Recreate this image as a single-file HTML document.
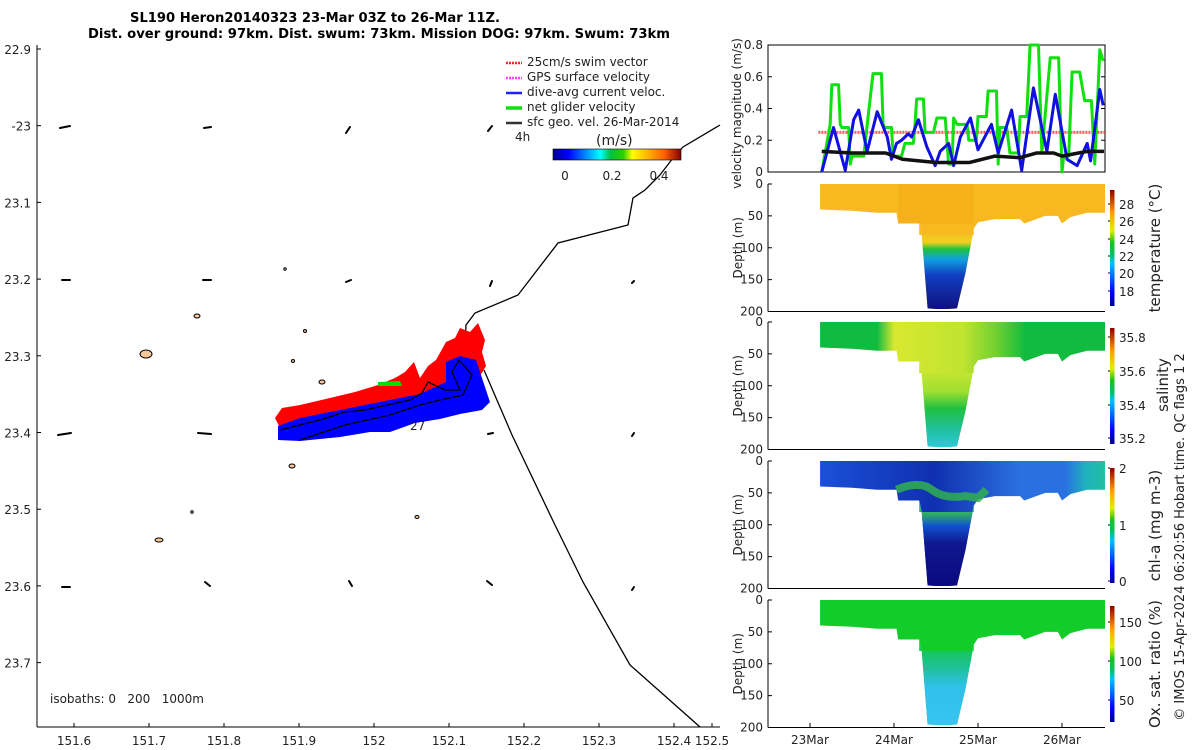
<!DOCTYPE html>
<html><head><meta charset="utf-8"><style>
html,body{margin:0;padding:0;background:#fff;}
svg{display:block;font-family:"DejaVu Sans","Liberation Sans",sans-serif;}
.t{font-size:12px;fill:#222;}
</style></head><body>
<svg id="fig" width="1200" height="750" viewBox="0 0 1200 750" xmlns="http://www.w3.org/2000/svg">
<defs>
<linearGradient id="jetH" x1="0" x2="1" y1="0" y2="0">
<stop offset="0" stop-color="#00008f"/><stop offset="0.12" stop-color="#0000ff"/><stop offset="0.37" stop-color="#00ffff"/><stop offset="0.45" stop-color="#00c040"/><stop offset="0.55" stop-color="#30d000"/><stop offset="0.62" stop-color="#ffff00"/><stop offset="0.87" stop-color="#ff6000"/><stop offset="1" stop-color="#800000"/></linearGradient>
<linearGradient id="jetV" x1="0" x2="0" y1="1" y2="0">
<stop offset="0" stop-color="#00008f"/><stop offset="0.12" stop-color="#0000ff"/><stop offset="0.37" stop-color="#00c0ff"/><stop offset="0.45" stop-color="#00c060"/><stop offset="0.55" stop-color="#20c020"/><stop offset="0.65" stop-color="#e0f000"/><stop offset="0.8" stop-color="#ffa000"/><stop offset="1" stop-color="#900000"/></linearGradient>
<linearGradient id="gTempTrough" x1="0" x2="0" y1="0" y2="1">
<stop offset="0" stop-color="#f6b01c"/><stop offset="0.22" stop-color="#f0d020"/><stop offset="0.3" stop-color="#20c040"/><stop offset="0.42" stop-color="#10a0e0"/><stop offset="0.6" stop-color="#1040c0"/><stop offset="1" stop-color="#101080"/></linearGradient>
<linearGradient id="gSalTrough" x1="0" x2="0" y1="0" y2="1">
<stop offset="0" stop-color="#d8e830"/><stop offset="0.35" stop-color="#a0e030"/><stop offset="0.55" stop-color="#20c040"/><stop offset="0.8" stop-color="#20c0a0"/><stop offset="1" stop-color="#30c8d8"/></linearGradient>
<linearGradient id="gSalH" x1="0" x2="1" y1="0" y2="0">
<stop offset="0" stop-color="#10bb40"/><stop offset="0.2" stop-color="#10bb40"/><stop offset="0.26" stop-color="#d8e830"/><stop offset="0.5" stop-color="#c0e430"/><stop offset="0.62" stop-color="#70d030"/><stop offset="0.72" stop-color="#10bb40"/><stop offset="1" stop-color="#10bb40"/></linearGradient>
<linearGradient id="gChlH" x1="0" x2="1" y1="0" y2="0">
<stop offset="0" stop-color="#1a50d8"/><stop offset="0.4" stop-color="#1030b0"/><stop offset="0.7" stop-color="#2a70e0"/><stop offset="0.86" stop-color="#2a70e0"/><stop offset="0.93" stop-color="#20b0c0"/><stop offset="1" stop-color="#20c0a0"/></linearGradient>
<linearGradient id="gChlTrough" x1="0" x2="0" y1="0" y2="1">
<stop offset="0" stop-color="#30b0a0"/><stop offset="0.15" stop-color="#30b060"/><stop offset="0.3" stop-color="#1050d0"/><stop offset="0.5" stop-color="#101890"/><stop offset="1" stop-color="#0a0a80"/></linearGradient>
<linearGradient id="gOxTrough" x1="0" x2="0" y1="0" y2="1">
<stop offset="0" stop-color="#10c830"/><stop offset="0.35" stop-color="#20c0a0"/><stop offset="0.55" stop-color="#30c0e8"/><stop offset="1" stop-color="#38c4f0"/></linearGradient>
</defs>

<g>
<text x="130" y="22" textLength="370" lengthAdjust="spacingAndGlyphs" font-weight="bold" font-size="13" fill="#000">SL190 Heron20140323 23-Mar 03Z to 26-Mar 11Z.</text>
<text x="88" y="38" textLength="582" lengthAdjust="spacingAndGlyphs" font-weight="bold" font-size="13" fill="#000">Dist. over ground: 97km. Dist. swum: 73km. Mission DOG: 97km. Swum: 73km</text>
<line x1="37" y1="45" x2="37" y2="727" stroke="#000"/>
<line x1="37" y1="727" x2="720" y2="727" stroke="#000"/>
<g id="mapTicks"></g>
<g fill="#f7c79a" stroke="#000" stroke-width="1">
<ellipse cx="146" cy="354" rx="6" ry="4"/><ellipse cx="197" cy="316" rx="3" ry="2"/><ellipse cx="322" cy="382" rx="3" ry="2"/><ellipse cx="292" cy="466" rx="3" ry="2"/><ellipse cx="159" cy="540" rx="4" ry="2"/>
<ellipse cx="305" cy="331" rx="1.5" ry="1.5"/><ellipse cx="293" cy="361" rx="1.5" ry="1.5"/><ellipse cx="285" cy="269" rx="1.2" ry="1.2"/><ellipse cx="417" cy="517" rx="2" ry="1.5"/><ellipse cx="192" cy="512" rx="1.2" ry="1.2"/>
</g>
<g stroke="#000" stroke-width="2" stroke-linecap="round">
<line x1="60" y1="128" x2="70" y2="126"/><line x1="204" y1="128" x2="211" y2="127"/><line x1="346" y1="133" x2="350" y2="127"/><line x1="488" y1="131" x2="492" y2="126"/>
<line x1="62" y1="280" x2="70" y2="280"/><line x1="203" y1="280" x2="211" y2="280"/><line x1="346" y1="282" x2="351" y2="280"/><line x1="490" y1="286" x2="492" y2="281"/><line x1="632" y1="283" x2="634" y2="281"/>
<line x1="58" y1="435" x2="71" y2="433"/><line x1="198" y1="433" x2="211" y2="434"/><line x1="488" y1="434" x2="493" y2="433"/><line x1="632" y1="436" x2="634" y2="433"/>
<line x1="62" y1="587" x2="70" y2="587"/><line x1="205" y1="582" x2="210" y2="586"/><line x1="349" y1="581" x2="352" y2="586"/><line x1="487" y1="581" x2="492" y2="585"/><line x1="632" y1="590" x2="634" y2="587"/>
</g>
<polyline points="720,125 683,147 673,158 660,175 645,190 633,198 628,225 558,243 518,295 475,313 466,325 465,345" fill="none" stroke="#000" stroke-width="1.3"/>
<polyline points="484,370 512,435 555,525 583,582 630,665 700,727" fill="none" stroke="#000" stroke-width="1.3"/>
<polygon points="275,418 282,408 300,405 330,398 355,392 378,385 395,378 405,372 414,362 420,378 428,366 436,360 446,342 455,338 460,328 470,332 478,323 485,340 482,352 486,366 480,376 470,386 440,400 400,406 340,412 300,422 280,428" fill="#ff0000"/>
<polygon points="278,426 300,418 340,410 380,402 420,394 446,382 446,362 460,356 476,360 484,384 490,402 482,410 460,414 440,419 415,423 390,432 370,432 340,437 300,441 278,440" fill="#0000ff"/>
<polyline points="378,382 400,381 402,386 378,386" fill="#00e000"/>
<polyline points="280,430 320,420 345,412 365,410 410,400 422,393 428,382 445,390 460,390 452,372 459,360 472,375 463,395 440,400 420,405 390,415 345,425 300,440" fill="none" stroke="#000" stroke-width="1.3"/>
<text x="410" y="430" class="t" fill="#000">27</text>
<text x="50" y="703" class="t" xml:space="preserve" style="white-space:pre">isobaths: 0   200   1000m</text>
<g>
<g stroke-width="2.5"><line x1="506" y1="63" x2="522" y2="63" stroke="#ff2020" stroke-dasharray="2,1"/><line x1="506" y1="78" x2="522" y2="78" stroke="#ff40ff" stroke-dasharray="2,1"/><line x1="506" y1="93" x2="522" y2="93" stroke="#2020ff"/><line x1="506" y1="108" x2="522" y2="108" stroke="#10e010" stroke-width="3.5"/><line x1="506" y1="123" x2="522" y2="123" stroke="#333"/></g>
<text x="527" y="66" class="t">25cm/s swim vector</text>
<text x="527" y="81" class="t">GPS surface velocity</text>
<text x="527" y="96" class="t">dive-avg current veloc.</text>
<text x="527" y="111" class="t">net glider velocity</text>
<text x="527" y="126" class="t">sfc geo. vel. 26-Mar-2014</text>
<text x="515" y="141" class="t">4h</text>
<text x="596" y="145" font-size="14" fill="#222">(m/s)</text>
<rect x="553" y="149" width="128" height="11" fill="url(#jetH)" stroke="#000" stroke-width="0.6"/>
<text x="565" y="180" class="t" text-anchor="middle">0</text>
<text x="612" y="180" class="t" text-anchor="middle">0.2</text>
<text x="659" y="180" class="t" text-anchor="middle">0.4</text>
</g>
</g>

<g id="right"></g>
<text transform="translate(1184,537) rotate(-90)" text-anchor="middle" font-size="13" fill="#222">© IMOS 15-Apr-2024 06:20:56 Hobart time. QC flags 1  2</text>
</svg>
<script>
const greenT=[23.14,23.24,23.26,23.34,23.36,23.38,23.46,23.48,23.50,23.56,23.64,23.66,23.75,23.77,23.85,23.87,23.89,23.97,23.99,24.09,24.13,24.23,24.25,24.27,24.35,24.37,24.39,24.47,24.51,24.61,24.65,24.69,24.71,24.75,24.87,24.89,24.98,25.00,25.10,25.12,25.22,25.24,25.26,25.34,25.38,25.48,25.50,25.58,25.62,25.72,25.76,25.86,25.96,26.00,26.02,26.08,26.12,26.21,26.27,26.35,26.39,26.45,26.49];
const greenV=[0,0.3,0.55,0.55,0.3,0.28,0.28,0.05,0.1,0.1,0.1,0.2,0.62,0.62,0.62,0.3,0.28,0.28,0.1,0.1,0.18,0.18,0.3,0.46,0.46,0.25,0.25,0.25,0.34,0.34,0.05,0.05,0.34,0.3,0.3,0.2,0.2,0.35,0.35,0.51,0.51,0.05,0.28,0.28,0.12,0.12,0.35,0.35,0.8,0.8,0.12,0.72,0.72,0,0.1,0.1,0.63,0.63,0.45,0.45,0.05,0.77,0.7];
const blueT=[23.14,23.18,23.28,23.42,23.52,23.58,23.68,23.80,23.92,23.97,24.03,24.09,24.17,24.21,24.29,24.39,24.49,24.55,24.65,24.71,24.79,24.91,25.00,25.16,25.24,25.40,25.52,25.66,25.82,25.92,26.06,26.18,26.30,26.34,26.45,26.49];
const blueV=[0,0.08,0.28,0.01,0.33,0.39,0.13,0.38,0.22,0.08,0.18,0.2,0.24,0.22,0.33,0.16,0.04,0.13,0.18,0.04,0.22,0.34,0.14,0.3,0.12,0.39,0.01,0.53,0.13,0.49,0.08,0.04,0.18,0.07,0.52,0.42];
const geoT=[23.14,23.5,23.9,24.1,24.5,24.9,25.2,25.5,25.7,25.9,26.0,26.3,26.5];
const geoV=[0.13,0.12,0.12,0.08,0.06,0.06,0.1,0.09,0.12,0.12,0.1,0.13,0.13];
const swimV=0.25;
const velTicks=[0,0.2,0.4,0.6,0.8];
const dateTicks=[23,24,25,26];
const dateLabels=["23Mar","24Mar","25Mar","26Mar"];
const profT=[23.12,23.5,23.8,24.03,24.05,24.3,24.33,24.4,24.5,24.65,24.75,24.85,24.95,25.0,25.2,25.5,25.55,25.8,25.95,26.0,26.1,26.3,26.5];
const profD=[40,42,45,45,62,62,80,195,196,196,195,140,70,60,55,55,62,50,50,62,52,45,45];
const troughT=[24.3,24.4,24.5,24.6,24.7,24.8,24.95];
const troughTop=[80,80,80,80,80,80,80];
const depthTicks=[0,50,100,150,200];

const NS="http://www.w3.org/2000/svg";
const R=document.getElementById('right');
const X0=768,X1=1105;
function xT(t){return 810+(t-23)*84;}
function mk(tag,attrs,parent){const e=document.createElementNS(NS,tag);for(const k in attrs)e.setAttribute(k,attrs[k]);(parent||R).appendChild(e);return e;}

const vTop=45,vBot=172;
function yV(v){return vBot-(v/0.8)*(vBot-vTop);}
const vp=mk('g',{});


mk('rect',{x:X0,y:vTop,width:X1-X0,height:vBot-vTop,fill:'none',stroke:'#000','stroke-width':1},vp);
velTicks.forEach(v=>{
  mk('line',{x1:X0,x2:X0+4,y1:yV(v),y2:yV(v),stroke:'#000'},vp);
  mk('line',{x1:X1-4,x2:X1,y1:yV(v),y2:yV(v),stroke:'#000'},vp);
  const tx=mk('text',{x:X0-5,y:yV(v)+4,'text-anchor':'end',class:'t'},vp);tx.textContent=v;
  
  
});
const vlab=mk('text',{transform:`translate(741,${(vTop+vBot)/2+5}) rotate(-90)`,'text-anchor':'middle',class:'t'},vp);
vlab.textContent='velocity magnitude (m/s)';


const sw=mk('line',{x1:xT(23.1),x2:X1,y1:yV(swimV),y2:yV(swimV),stroke:'#ff3030','stroke-width':3,'stroke-dasharray':'2,1',opacity:0.8},vp);


function pl(T,V,col,w,name){const p=mk('polyline',{points:T.map((t,i)=>xT(t)+','+yV(V[i])).join(' '),fill:'none',stroke:col,'stroke-width':w,'stroke-linejoin':'round'},vp);
  
  }
pl(greenT,greenV,'#10e010',3,'net-glider-velocity-line');
pl(blueT,blueV,'#1010e0',3,'dive-avg-current-line');
pl(geoT,geoV,'#111',3.5,'sfc-geo-velocity-line');

const secs=[
 {top:184,name:'temperature',fill:'#f8b820',grad:'url(#gTempTrough)',lab:'temperature (°C)',cbTop:190,cbBot:306,ticks:[[28,204],[26,221],[24,239],[22,256],[20,273],[18,291]]},
 {top:322,name:'salinity',fill:'url(#gSalH)',grad:'url(#gSalTrough)',lab:'salinity',cbTop:328,cbBot:444,ticks:[[35.8,337],[35.6,371],[35.4,405],[35.2,438]]},
 {top:461,name:'chl-a',fill:'url(#gChlH)',grad:'url(#gChlTrough)',lab:'chl-a (mg m-3)',cbTop:468,cbBot:583,ticks:[[2,468],[1,525],[0,581]]},
 {top:600,name:'oxygen-saturation',fill:'#12cc2a',grad:'url(#gOxTrough)',lab:'Ox. sat. ratio (%)',cbTop:606,cbBot:722,ticks:[[150,622],[100,661],[50,700]]}
];
secs.forEach((s,k)=>{
  const bot=s.top+127.5;
  const yD=d=>s.top+d/200*(bot-s.top);
  const g=mk('g',{});
  
  
  let pts=xT(profT[0])+','+yD(0)+' ';
  pts+=profT.map((t,i)=>xT(t)+','+yD(profD[i])).join(' ');
  pts+=' '+X1+','+yD(profD[profD.length-1])+' '+X1+','+yD(0);
  mk('polygon',{points:pts,fill:s.fill},g);
  const tp=[];for(let i=0;i<troughT.length;i++)tp.push(xT(troughT[i])+','+yD(troughTop[i]));
  const inner=profT.map((t,i)=>[t,profD[i]]).filter(p=>p[0]>=24.3&&p[0]<=24.95).reverse();
  const poly=tp.concat(inner.map(p=>xT(p[0])+','+yD(p[1])));
  mk('polygon',{points:poly.join(' '),fill:s.grad},g);
  if(k===0){mk('rect',{x:xT(24.05),y:yD(0),width:xT(24.95)-xT(24.05),height:yD(62)-yD(0),fill:'#f4aa14',opacity:0.5},g);}
  if(k===2){mk('path',{d:`M${xT(24.03)},${yD(45)} Q${xT(24.3)},${yD(30)} ${xT(24.45)},${yD(45)} T${xT(24.85)},${yD(55)} L${xT(25.0)},${yD(58)} L${xT(25.1)},${yD(45)}`,fill:'none',stroke:'#30b050','stroke-width':8,opacity:0.85},g);}
  mk('line',{x1:X0,x2:X0,y1:s.top,y2:bot,stroke:'#000'},g);
  mk('line',{x1:X0,x2:X1,y1:bot,y2:bot,stroke:'#000'},g);
  depthTicks.forEach(d=>{
    mk('line',{x1:X0,x2:X0+4,y1:yD(d),y2:yD(d),stroke:'#000'},g);
    const tx=mk('text',{x:X0-5,y:yD(d)+4,'text-anchor':'end',class:'t'},g);tx.textContent=d;
    
    
  });
  const dl=mk('text',{transform:`translate(742,${(s.top+bot)/2}) rotate(-90)`,'text-anchor':'middle',class:'t'},g);dl.textContent='Depth (m)';
  
  
  const cb=mk('rect',{x:1110,y:s.cbTop,width:4.5,height:s.cbBot-s.cbTop,fill:'url(#jetV)'},g);
  
  
  s.ticks.forEach(tk=>{
    mk('line',{x1:1108,x2:1110,y1:tk[1],y2:tk[1],stroke:'#000'},g);
    const tx=mk('text',{x:1119,y:tk[1]+5,class:'t'},g);tx.setAttribute('font-size','14');tx.textContent=tk[0];
    
    
  });
  const cl=mk('text',{transform:`translate(${k===1?1168:1160},${k===1?385:(s.cbTop+s.cbBot)/2}) rotate(-90)`,'text-anchor':'middle','font-size':'15',fill:'#222'},g);cl.textContent=s.lab;
  
  
});
dateTicks.forEach((t,i)=>{
  mk('line',{x1:xT(t),x2:xT(t),y1:723,y2:727,stroke:'#000'});
  const tx=mk('text',{x:xT(t),y:744,'text-anchor':'middle',class:'t'});tx.textContent=dateLabels[i];
  
  
});

const MT=document.getElementById('mapTicks');
const latTicks=[22.9,23.0,23.1,23.2,23.3,23.4,23.5,23.6,23.7];
const latLabels=["22.9","-23","23.1","23.2","23.3","23.4","23.5","23.6","23.7"];
const lonTicks=[151.6,151.7,151.8,151.9,152.0,152.1,152.2,152.3,152.4,152.5];
const lonLabels=["151.6","151.7","151.8","151.9","152","152.1","152.2","152.3","152.4","152.5"];
const yLat=l=>49+(l-22.9)*767;
const xLon=l=>74+(l-151.6)*750;
latTicks.forEach((l,i)=>{
  mk('line',{x1:37,x2:41,y1:yLat(l),y2:yLat(l),stroke:'#000'},MT);
  const tx=mk('text',{x:31,y:yLat(l)+5,'text-anchor':'end',class:'t'},MT);tx.setAttribute('font-size','13');tx.textContent=latLabels[i];
  
  
});
lonTicks.forEach((l,i)=>{
  const x=Math.min(xLon(l),712);
  mk('line',{x1:x,x2:x,y1:723,y2:727,stroke:'#000'},MT);
  const tx=mk('text',{x:x,y:745,'text-anchor':'middle',class:'t'},MT);tx.setAttribute('font-size','13');tx.textContent=lonLabels[i];
  
  
});
</script>
</body></html>
